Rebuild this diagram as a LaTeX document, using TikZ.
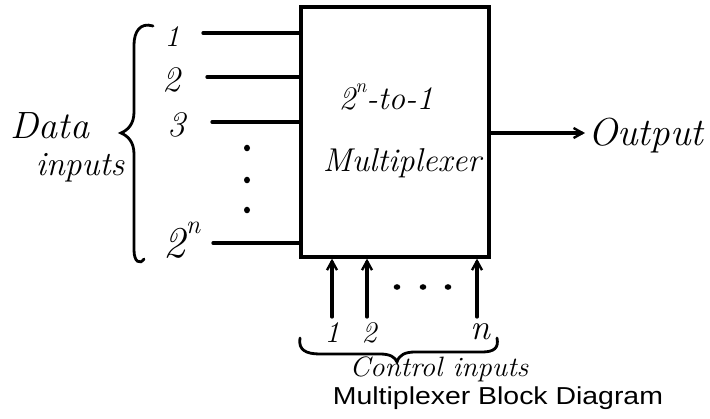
\documentclass[tikz,border=0pt]{standalone}
\usepackage{fontspec}
\newfontfamily\capfont{Liberation Sans}
\usetikzlibrary{arrows.meta}
\newcommand{\twon}[2]{2\raisebox{#1}{\fontsize{#2}{#2}\selectfont n}}
\begin{document}
\begin{tikzpicture}[x=1pt,y=-1pt,
  hand/.style={inner sep=0pt},
  wire/.style={line width=3.3pt, line cap=round},
  arr/.style={wire, -{Straight Barb[length=9pt,width=10pt,line width=2.4pt]}}]
\useasboundingbox (0,0) rectangle (710,418);
% multiplexer box
\node[draw, line width=3.3pt, minimum width=188pt, minimum height=250pt, inner sep=0pt] (mux) at (395,132) {};
\node[hand, font=\itshape\fontsize{33}{33}\selectfont] (t1) at (386,97) {\twon{.5em}{20}-to-1};
\node[hand, font=\itshape\fontsize{33}{33}\selectfont] (t2) at (402,163) {Multiplexer};
% data inputs
\coordinate (d1) at (203,33);
\coordinate (d2) at (207,77);
\coordinate (d3) at (212,122);
\coordinate (dn) at (213,243);
\foreach \c in {d1,d2,d3,dn} \draw[wire] (\c) -- (\c -| mux.west);
\node[hand, font=\itshape\fontsize{30}{30}\selectfont] (l1) at (172,37) {1};
\node[hand, font=\itshape\fontsize{36}{36}\selectfont] (l2) at (171,80) {2};
\node[hand, font=\itshape\fontsize{36}{36}\selectfont] (l3) at (176,125) {3};
\node[hand, font=\itshape\fontsize{44}{44}\selectfont] (ln) at (182,240) {\twon{.55em}{26}};
\fill (247,148) ellipse (3pt and 3.3pt);
\fill (247,180) ellipse (3pt and 3.3pt);
\fill (247,210) ellipse (3pt and 3.3pt);
% left brace
\draw[line width=2.8pt, line cap=round] (153,26) .. controls (140,22) and (134,32) .. (134,45)
  -- (134,112) .. controls (134,124) and (128,130) .. (121,133)
  .. controls (128,136) and (134,142) .. (134,154)
  -- (134,250) .. controls (134,262) and (140,265) .. (144,259);
\node[hand, font=\itshape\fontsize{38}{38}\selectfont] (data) at (50,126) {Data};
\node[hand, font=\itshape\fontsize{34}{34}\selectfont] (inp) at (80,168) {inputs};
% output
\coordinate (oend) at (585,133);
\draw[arr] (mux.east |- oend) -- (oend);
\node[hand, font=\itshape\fontsize{39}{39}\selectfont, anchor=west] (out) at (588,136) {Output};
% control inputs
\coordinate (c1) at (332,317);
\coordinate (c2) at (367,317);
\coordinate (cn) at (477,317);
\foreach \c in {c1,c2,cn} \draw[arr] (\c) -- (\c |- mux.south);
\fill (397,287) ellipse (3.3pt and 2.8pt);
\fill (423,287) ellipse (3.3pt and 2.8pt);
\fill (448,287) ellipse (3.3pt and 2.8pt);
\node[hand, font=\itshape\fontsize{30}{30}\selectfont] (k1) at (332,333) {1};
\node[hand, font=\itshape\fontsize{30}{30}\selectfont] (k2) at (369,333) {2};
\node[hand, font=\itshape\fontsize{36}{36}\selectfont] (kn) at (480,332) {n};
% bottom brace
\draw[line width=2.8pt, line cap=round] (300,338) .. controls (298,350) and (306,354) .. (320,354)
  -- (380,354) .. controls (390,354) and (395,357) .. (397,362)
  .. controls (399,355) and (405,352) .. (415,352)
  -- (482,352) .. controls (494,352) and (499,348) .. (497,338);
\node[hand, font=\itshape\fontsize{28}{28}\selectfont, xscale=1.04] (ctl) at (439,369) {Control inputs};
% caption
\node[inner sep=0pt, font=\capfont\fontsize{24.5}{24.5}\selectfont, xscale=1.16] (cap) at (498,398) {Multiplexer Block Diagram};
\end{tikzpicture}
\end{document}
